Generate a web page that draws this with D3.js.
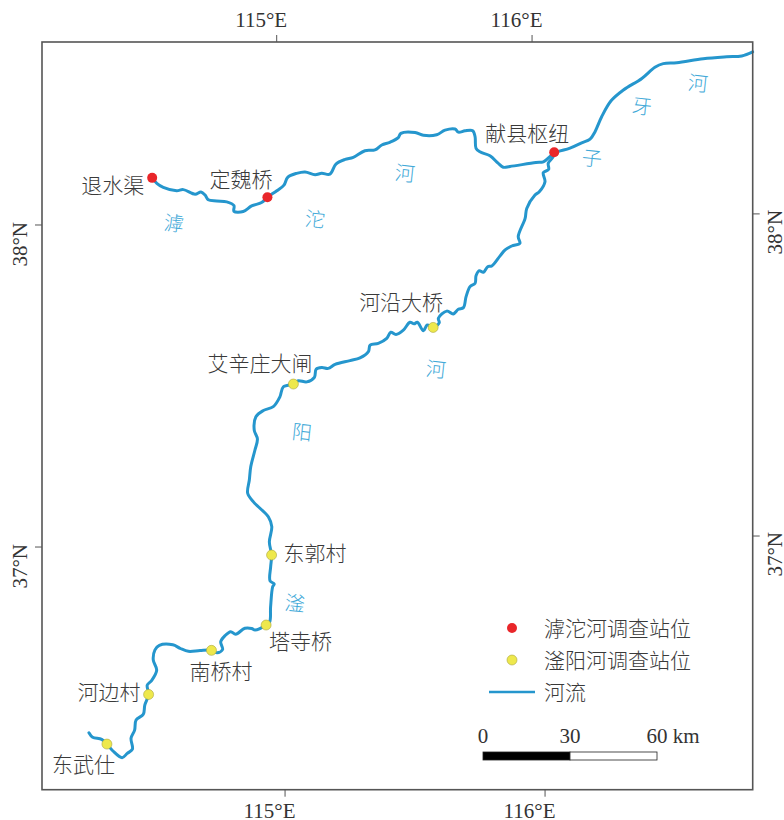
<!DOCTYPE html>
<html>
<head>
<meta charset="utf-8">
<script src="https://d3js.org/d3.v7.min.js"></script>
<style>
  html, body { margin: 0; padding: 0; background: #fff; }
  svg { display: block; }
  .cn { font-family: "Noto Sans CJK SC", sans-serif; font-weight: 300; fill: #3a3a3a; }
  .num { font-family: "Liberation Serif", serif; fill: #333; }
</style>
</head>
<body>
<script>
// river courses, [lon, lat]
var fuyangRiver = [
  [114.247,36.421],[114.261,36.407],[114.296,36.400],[114.316,36.385],[114.338,36.364],[114.374,36.342],
  [114.394,36.355],[114.414,36.368],[114.409,36.402],[114.423,36.427],[114.429,36.458],[114.457,36.476],
  [114.463,36.504],[114.478,36.537],[114.473,36.566],[114.490,36.580],[114.510,36.612],[114.497,36.644],
  [114.504,36.675],[114.521,36.689],[114.573,36.690],[114.601,36.679],[114.633,36.669],[114.678,36.671],
  [114.722,36.671],[114.744,36.663],[114.765,36.673],[114.758,36.697],[114.775,36.716],[114.797,36.728],
  [114.816,36.720],[114.852,36.738],[114.878,36.737],[114.891,36.732],[114.934,36.747],[114.948,36.757],
  [114.952,36.803],[114.961,36.866],[114.967,36.874],[114.951,36.884],[114.954,36.928],[114.958,36.964],
  [114.950,37.005],[114.960,37.052],[114.947,37.083],[114.915,37.110],[114.890,37.130],[114.868,37.157],
  [114.875,37.198],[114.881,37.239],[114.898,37.291],[114.908,37.325],[114.896,37.353],[114.903,37.394],
  [114.932,37.413],[114.971,37.425],[114.997,37.455],[115.011,37.486],[115.050,37.494],[115.069,37.504],
  [115.102,37.500],[115.132,37.514],[115.139,37.539],[115.161,37.544],[115.186,37.541],[115.213,37.553],
  [115.271,37.564],[115.310,37.572],[115.343,37.591],[115.350,37.611],[115.382,37.616],[115.415,37.631],
  [115.431,37.650],[115.451,37.643],[115.480,37.656],[115.506,37.680],[115.522,37.675],[115.535,37.680],
  [115.558,37.653],[115.573,37.671],[115.596,37.663],[115.620,37.677],[115.617,37.691],[115.650,37.713],
  [115.675,37.704],[115.695,37.718],[115.715,37.723],[115.726,37.757],[115.742,37.788],[115.762,37.798],
  [115.766,37.821],[115.779,37.837],[115.795,37.832],[115.812,37.849],[115.828,37.851],[115.861,37.882],
  [115.881,37.900],[115.907,37.912],[115.939,37.920],[115.933,37.941],[115.961,37.997],[115.968,38.028],
  [116.001,38.069],[116.018,38.079],[116.041,38.110],[116.035,38.138],[116.056,38.148],[116.055,38.167],
  [116.073,38.185],[116.079,38.201]
];
var hutuoRiver = [
  [114.508,38.141],[114.526,38.124],[114.551,38.111],[114.603,38.100],[114.629,38.103],[114.675,38.088],
  [114.698,38.095],[114.714,38.085],[114.726,38.070],[114.759,38.066],[114.798,38.063],[114.826,38.051],
  [114.826,38.033],[114.862,38.032],[114.895,38.049],[114.934,38.059],[114.957,38.075],[114.994,38.095],
  [115.022,38.112],[115.037,38.136],[115.072,38.148],[115.105,38.152],[115.144,38.143],[115.170,38.147],
  [115.202,38.144],[115.226,38.175],[115.262,38.189],[115.294,38.195],[115.340,38.215],[115.379,38.217],
  [115.406,38.232],[115.438,38.240],[115.471,38.254],[115.481,38.267],[115.537,38.269],[115.569,38.260],
  [115.621,38.261],[115.654,38.275],[115.693,38.278],[115.706,38.268],[115.732,38.272],[115.762,38.272],
  [115.771,38.253],[115.774,38.217],[115.789,38.206],[115.828,38.193],[115.859,38.170],[115.879,38.157],
  [115.905,38.159],[116.007,38.170],[116.036,38.172],[116.062,38.188],[116.079,38.201]
];
var ziyaRiver = [
  [116.079,38.201],[116.141,38.213],[116.187,38.229],[116.220,38.240],[116.240,38.263],[116.267,38.309],
  [116.305,38.358],[116.354,38.391],[116.427,38.426],[116.479,38.460],[116.512,38.471],[116.565,38.473],
  [116.669,38.484],[116.761,38.489],[116.820,38.491],[116.863,38.503]
];

var hutuoStations = [
  { name: "退水渠", lon: 114.508, lat: 38.141 },
  { name: "定魏桥", lon: 114.957, lat: 38.075 },
  { name: "献县枢纽", lon: 116.079, lat: 38.201 }
];
var fuyangStations = [
  { name: "东武仕", lon: 114.316, lat: 36.385 },
  { name: "河边村", lon: 114.478, lat: 36.537 },
  { name: "南桥村", lon: 114.722, lat: 36.671 },
  { name: "塔寺桥", lon: 114.934, lat: 36.747 },
  { name: "东郭村", lon: 114.958, lat: 36.964 },
  { name: "艾辛庄大闸", lon: 115.050, lat: 37.494 },
  { name: "河沿大桥", lon: 115.596, lat: 37.663 }
];
var lonTicks = [115, 116];
var latTicks = [37, 38];
var scaleTicks = [0, 30, 60];
var legendLabels = ["滹沱河调查站位", "滏阳河调查站位", "河流"];

var width = 784, height = 820;
var frame = { left: 42, top: 42, right: 752.7, bottom: 789.7 };
var blue = "#2596cd", red = "#e9262a", yellow = "#eee84c";

// the map's slightly tilted grid, fitted to its four corner crossings
function projectXY(lon, lat) {
  var u = lon - 115, v = 38 - lat;
  return [278.7 + 256.4 * u + 3.6 * v + 2 * u * v, 221.3 - 4 * u + 322 * v];
}
var riverLine = d3.line()
    .x(d => projectXY(d[0], d[1])[0])
    .y(d => projectXY(d[0], d[1])[1])
    .curve(d3.curveCatmullRom.alpha(0.5));

// where a parallel meets a vertical edge / a meridian meets a horizontal edge
function latAtEdge(lat, x) {
  var v = 38 - lat;
  var u = (x - 278.7 - 3.6 * v) / (256.4 + 2 * v);
  return projectXY(115 + u, lat);
}
function lonAtEdge(lon, y) {
  var u = lon - 115;
  var v = (y - 221.3 + 4 * u) / 322;
  return projectXY(lon, 38 - v);
}

var svg = d3.select("body").append("svg")
    .attr("width", width)
    .attr("height", height)
    .style("background", "#fff");

var rivers = svg.append("g")
    .attr("fill", "none")
    .attr("stroke", blue)
    .attr("stroke-width", 3)
    .attr("stroke-linejoin", "round")
    .attr("stroke-linecap", "round");
[fuyangRiver, hutuoRiver, ziyaRiver].forEach(function(r) {
  rivers.append("path").attr("d", riverLine(r));
});

svg.append("rect")
    .attr("x", frame.left)
    .attr("y", frame.top)
    .attr("width", frame.right - frame.left)
    .attr("height", frame.bottom - frame.top)
    .attr("fill", "none")
    .attr("stroke", "#555")
    .attr("stroke-width", 1.6);

// ticks
var ticks = svg.append("g").attr("stroke", "#555").attr("stroke-width", 1);
var tickLen = 7;
lonTicks.forEach(function(lon) {
  var t = lonAtEdge(lon, frame.top), b = lonAtEdge(lon, frame.bottom);
  ticks.append("line").attr("x1", t[0]).attr("x2", t[0]).attr("y1", frame.top).attr("y2", frame.top - tickLen);
  ticks.append("line").attr("x1", b[0]).attr("x2", b[0]).attr("y1", frame.bottom).attr("y2", frame.bottom + tickLen);
  svg.append("text").attr("class", "num").attr("font-size", 21)
      .attr("text-anchor", "end").attr("x", t[0] + 10.5).attr("y", 27).text(lon + "°E");
  svg.append("text").attr("class", "num").attr("font-size", 21)
      .attr("text-anchor", "end").attr("x", b[0] + 10.5).attr("y", 818).text(lon + "°E");
});
latTicks.forEach(function(lat) {
  var l = latAtEdge(lat, frame.left), r = latAtEdge(lat, frame.right);
  ticks.append("line").attr("y1", l[1]).attr("y2", l[1]).attr("x1", frame.left).attr("x2", frame.left - tickLen);
  ticks.append("line").attr("y1", r[1]).attr("y2", r[1]).attr("x1", frame.right).attr("x2", frame.right + tickLen);
  svg.append("text").attr("class", "num").attr("font-size", 21)
      .attr("text-anchor", "end")
      .attr("transform", `translate(27,${l[1] - 3}) rotate(-90)`).text(lat + "°N");
  svg.append("text").attr("class", "num").attr("font-size", 21)
      .attr("text-anchor", "end")
      .attr("transform", `translate(782,${r[1] - 4}) rotate(-90)`).text(lat + "°N");
});

// river names
var riverNames = [
  ["滹", 174, 222], ["沱", 315, 218], ["河", 405, 172],
  ["子", 592, 157], ["牙", 642, 105], ["河", 698, 82],
  ["河", 436, 368], ["阳", 302, 431], ["滏", 295, 602]
];
svg.append("g").selectAll("text")
    .data(riverNames)
    .enter()
    .append("text")
      .attr("font-family", '"Noto Sans CJK SC", sans-serif')
      .attr("font-weight", 300)
      .attr("font-size", 20)
      .attr("fill", "#41a9d8")
      .attr("text-anchor", "middle")
      .attr("dominant-baseline", "central")
      .attr("transform", d => `translate(${d[1]},${d[2]}) rotate(6)`)
      .text(d => d[0]);

// stations
function drawStations(list, color) {
  svg.append("g").selectAll("circle")
      .data(list)
      .enter()
      .append("circle")
        .attr("cx", d => projectXY(d.lon, d.lat)[0])
        .attr("cy", d => projectXY(d.lon, d.lat)[1])
        .attr("r", 5)
        .attr("fill", color)
        .attr("stroke", color === red ? "none" : "#a9a640")
        .attr("stroke-width", 0.6);
}
drawStations(hutuoStations, red);
drawStations(fuyangStations, yellow);

// station labels, offset from the dot by hand
var labelOffset = {
  "退水渠": [-71, 15], "定魏桥": [-58, -10], "献县枢纽": [-69, -11],
  "东武仕": [-55, 28], "河边村": [-71, 6], "南桥村": [-22, 29],
  "塔寺桥": [3, 24], "东郭村": [12, 6], "艾辛庄大闸": [-86, -13], "河沿大桥": [-74, -17]
};
svg.append("g").selectAll("text")
    .data(hutuoStations.concat(fuyangStations))
    .enter()
    .append("text")
      .attr("class", "cn")
      .attr("font-size", 21)
      .attr("x", d => projectXY(d.lon, d.lat)[0] + labelOffset[d.name][0])
      .attr("y", d => projectXY(d.lon, d.lat)[1] + labelOffset[d.name][1])
      .text(d => d.name);

// legend
var legendY = [628, 660, 692];
svg.append("circle").attr("cx", 512).attr("cy", 628).attr("r", 5).attr("fill", red);
svg.append("circle").attr("cx", 512).attr("cy", 660).attr("r", 5).attr("fill", yellow)
    .attr("stroke", "#a9a640").attr("stroke-width", 0.6);
svg.append("line").attr("x1", 489).attr("x2", 535).attr("y1", 692).attr("y2", 692)
    .attr("stroke", blue).attr("stroke-width", 2.5);
svg.append("g").selectAll("text")
    .data(legendLabels)
    .enter()
    .append("text")
      .attr("class", "cn")
      .attr("font-size", 21)
      .attr("x", 544)
      .attr("y", (d, i) => legendY[i] + 8)
      .text(d => d);

// scale bar
var scaleKm = d3.scaleLinear().domain([0, 60]).range([483, 657]);
svg.append("rect").attr("x", scaleKm(0)).attr("y", 752).attr("width", scaleKm(30) - scaleKm(0)).attr("height", 8)
    .attr("fill", "#000").attr("stroke", "#222").attr("stroke-width", 0.8);
svg.append("rect").attr("x", scaleKm(30)).attr("y", 752).attr("width", scaleKm(60) - scaleKm(30)).attr("height", 8)
    .attr("fill", "#fff").attr("stroke", "#222").attr("stroke-width", 0.8);
svg.append("g").selectAll("text")
    .data(scaleTicks)
    .enter()
    .append("text")
      .attr("class", "num")
      .attr("font-size", 21)
      .attr("x", d => d === 60 ? scaleKm(d) - 10.5 : scaleKm(d))
      .attr("y", 743)
      .attr("text-anchor", d => d === 60 ? "start" : "middle")
      .text(d => d === 60 ? "60 km" : d);
</script>
</body>
</html>
